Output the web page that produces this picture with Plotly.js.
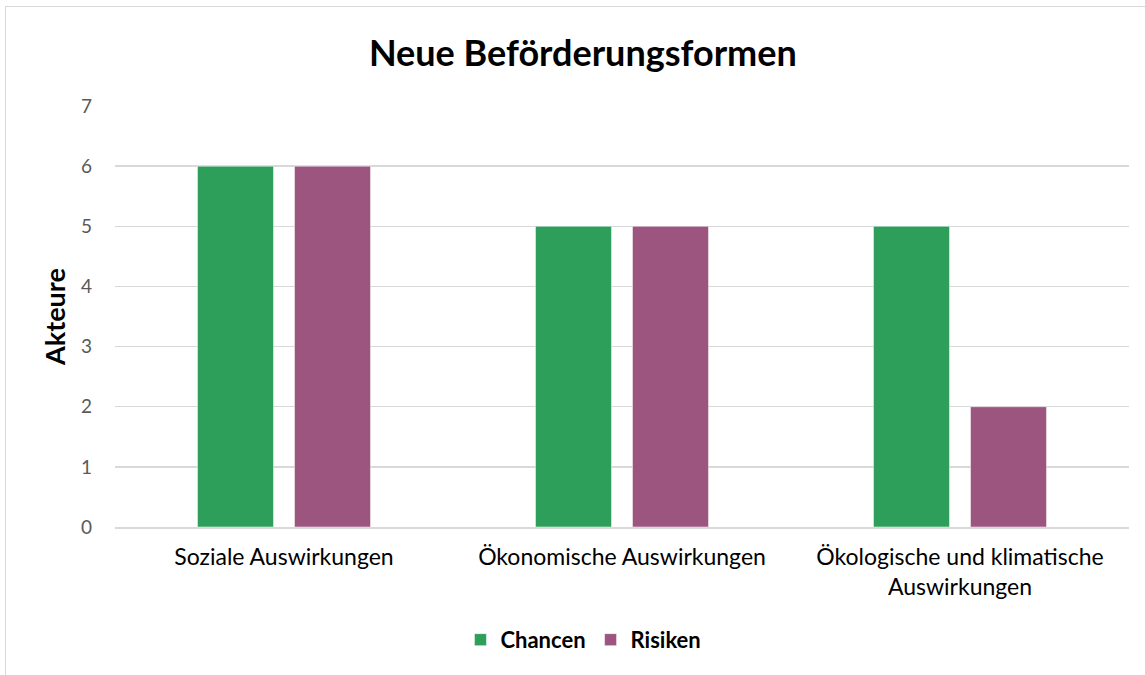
<!DOCTYPE html>
<html><head><meta charset="utf-8">
<script src="https://cdn.plot.ly/plotly-3.0.1.min.js"></script>
<style>
html,body{margin:0;padding:0;background:#fff;}
#wrap{position:relative;width:1145px;height:675px;overflow:hidden;}
#frame{position:absolute;left:5px;top:6px;width:1200px;height:800px;border-left:1.5px solid #d9d9d9;border-top:1.5px solid #d9d9d9;}
#chart{position:absolute;left:0;top:0;width:1145px;height:675px;}
</style></head>
<body><div id="wrap"><div id="frame"></div><div id="chart"></div></div>
<script>
const categories = ["Soziale Auswirkungen", "Ökonomische Auswirkungen", "Ökologische und klimatische<br>Auswirkungen"];
const chancen = [6, 5, 5];
const risiken = [6, 5, 2];
const yTicks = [0, 1, 2, 3, 4, 5, 6, 7];

const font = "Lato, 'Open Sans', sans-serif";
const traces = [
  {type: "bar", name: "Chancen", x: categories, y: chancen,
   marker: {color: "#2e9e5b", line: {color: "rgba(255,255,255,0.5)", width: 1}}},
  {type: "bar", name: "Risiken", x: categories, y: risiken,
   marker: {color: "#9b557f", line: {color: "rgba(255,255,255,0.5)", width: 1}}}
];
const layout = {
  width: 1145, height: 675,
  margin: {l: 115, r: 16, t: 106, b: 148},
  paper_bgcolor: "rgba(0,0,0,0)", plot_bgcolor: "rgba(0,0,0,0)",
  font: {family: font, color: "#000"},
  title: {text: "<b>Neue Beförderungsformen</b>", font: {family: font, size: 36, color: "#000"},
          xref: "container", x: 0.509, xanchor: "center", yref: "container", y: 1 - 53/675, yanchor: "middle"},
  barmode: "group", bargap: 0.426, bargroupgap: 0.216,
  xaxis: {tickfont: {size: 23, color: "#000"}, showline: true, linecolor: "#d9d9d9", linewidth: 1.5,
          ticks: "", showgrid: false, fixedrange: true, ticklabelstandoff: 9},
  yaxis: {range: [0, 7], tickvals: yTicks, showgrid: true, gridcolor: "#d9d9d9", gridwidth: 1.5,
          zeroline: false, tickfont: {size: 19, color: "#595959"}, ticklabelstandoff: 22,
          title: {text: "<b>Akteure</b>", font: {size: 27, color: "#000"}, standoff: 7}, ticks: ""},
  legend: {orientation: "h", x: 0.462, xanchor: "center", y: -0.268, yanchor: "middle",
           font: {size: 22, color: "#000", weight: "bold"}, itemwidth: 30},
  showlegend: true
};
Plotly.newPlot("chart", traces, layout, {displayModeBar: false, staticPlot: true});
</script></body></html>
